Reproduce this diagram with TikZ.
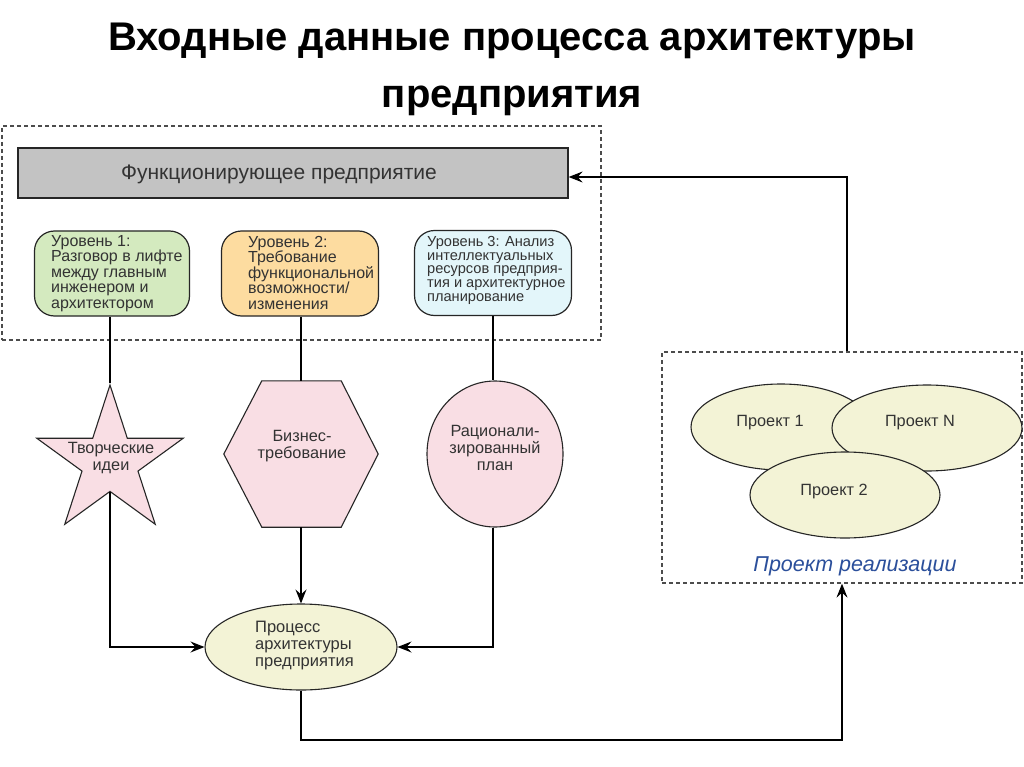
\documentclass[tikz,border=0pt]{standalone}
\usepackage{fontspec}
\setmainfont{Liberation Sans}
\usetikzlibrary{shapes.geometric,arrows.meta,calc}
\definecolor{txt}{HTML}{333333}
\definecolor{lgreen}{HTML}{D4EABF}
\definecolor{lorange}{HTML}{FDDCA0}
\definecolor{lblue}{HTML}{E3F6FA}
\definecolor{lpink}{HTML}{F9DEE4}
\definecolor{lyell}{HTML}{F3F3D6}
\definecolor{gbox}{HTML}{C3C3C3}
\definecolor{implblue}{HTML}{2B4F9B}
\tikzset{
  dashbox/.style={draw=black!70, line width=1.3pt, dash pattern=on 4pt off 3pt, minimum width=#1},
  levelbox/.style={draw=black!85, line width=1.2pt, rounded corners=20pt, minimum width=155pt, minimum height=85pt, inner sep=0pt},
  lvltext/.style={text=txt, align=left, inner sep=0pt, anchor=north west, font=\fontsize{16}{15.5}\selectfont},
  shapetext/.style={text=txt, align=center, font=\fontsize{16.3}{17}\selectfont},
  pinkshape/.style={draw=black!85, line width=1.1pt, fill=lpink},
  conn/.style={draw=black, line width=1.1pt},
  arrow/.style={conn, -{Stealth[length=14pt,width=11pt,inset=5pt]}},
  proj/.style={ellipse, draw=black!85, line width=1.1pt, fill=lyell, inner sep=0pt},
}
\begin{document}
\begin{tikzpicture}[x=1pt,y=-1pt]
\useasboundingbox[fill=white] (0,0) rectangle (1024,767);
% title
\node (t1) at (512,41) {\fontsize{40}{44}\selectfont\bfseries Входные данные процесса архитектуры};
\node (t2) at (512,101) {\fontsize{40}{44}\selectfont\bfseries предприятия};
% outer dashed box
\node[dashbox=599pt, minimum height=214pt] (outer) at (301.5,233) {};
% functioning enterprise
\node[draw=black!85, line width=1.3pt, fill=gbox, minimum width=550pt, minimum height=50pt] (func) at (293,173) {};
\node[text=txt, font=\fontsize{21}{24}\selectfont] (funct) at (279,174) {Функционирующее предприятие};
% level boxes
\node[levelbox, fill=lgreen] (lvl1) at (112,273.5) {};
\node[lvltext] (lvl1t) at (51,235) {Уровень 1:\\Разговор в лифте\\между главным\\инженером и\\архитектором};
\node[levelbox, fill=lorange, minimum width=157pt] (lvl2) at (300,273.5) {};
\node[lvltext] (lvl2t) at (248,236) {Уровень 2:\\Требование\\функциональной\\возможности/\\изменения};
\node[levelbox, fill=lblue, minimum width=157pt] (lvl3) at (493,273) {};
\node[lvltext, font=\fontsize{14.6}{13.7}\selectfont] (lvl3t) at (427,236) {Уровень 3: Анализ\\интеллектуальных\\ресурсов предприя-\\тия и архитектурное\\планирование};
% star
\node[star, star points=5, star point ratio=2.618, minimum size=154pt, inner sep=0pt, pinkshape] (star) at (110,462) {};
\node[shapetext] (start) at (111,458) {Творческие\\идеи};
% hexagon
\node[minimum width=154pt, minimum height=146pt, inner sep=0pt] (hex) at (301,454) {};
\draw[pinkshape] (hex.west) -- ($(hex.north west)+(38,0)$) -- ($(hex.north east)+(-37,0)$) -- (hex.east) -- ($(hex.south east)+(-37,0)$) -- ($(hex.south west)+(38,0)$) -- cycle;
\node[shapetext] (hext) at (302,446) {Бизнес-\\требование};
% circle
\node[ellipse, pinkshape, minimum width=136pt, minimum height=146pt, inner sep=0pt] (circ) at (495,454) {};
\node[shapetext] (circt) at (495,448) {Рационали-\\зированный\\план};
% process
\node[ellipse, draw=black!85, line width=1.1pt, fill=lyell, minimum width=192pt, minimum height=86pt, inner sep=0pt] (proc) at (301,647) {};
\node[text=txt, align=left, font=\fontsize{16.5}{17}\selectfont, anchor=west, inner sep=0pt] (proct) at (255,646) {Процесс\\архитектуры\\предприятия};
% implementation box
\node[dashbox=360pt, minimum height=231pt] (impl) at (842,467.5) {};
\node[proj, minimum width=180pt, minimum height=86pt] (p1) at (781,427) {};
\node[proj, minimum width=190pt, minimum height=86pt] (pn) at (927,428) {};
\node[proj, minimum width=190pt, minimum height=86pt] (p2) at (845,495) {};
\node[shapetext] (p1t) at (770,423) {Проект 1};
\node[shapetext] (pnt) at (920,423) {Проект N};
\node[shapetext] (p2t) at (834,491) {Проект 2};
\node[text=implblue, font=\fontsize{21.5}{24}\selectfont\itshape] (implt) at (855,566) {Проект реализации};
% connectors
\draw[conn] (lvl1.south -| star.north) -- (star.north);
\draw[conn] (lvl2.south -| hex.north) -- (hex.north);
\draw[conn] (lvl3.south) -- (lvl3.south |- circ.north);
\draw[arrow] (star.south) |- (proc.west);
\draw[arrow] (hex.south) -- (proc.north);
\draw[arrow] (lvl3.south |- circ.south) |- (proc.east);
\coordinate (bot) at (301,740);
\draw[arrow] (proc.south) -- (bot) -| (impl.south);
\coordinate (topr) at (847,177);
\draw[arrow] (impl.north -| topr) -- (topr) -- (func.east |- topr);
\end{tikzpicture}
\end{document}
